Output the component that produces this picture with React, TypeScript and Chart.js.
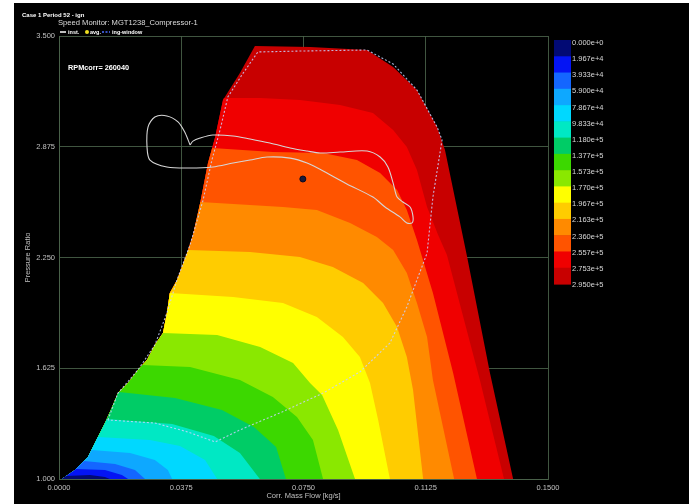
import React, { useEffect, useRef } from 'react';
import { Chart, registerables } from 'chart.js';

Chart.register(...registerables);

type P = [number, number];

const FONT = '"Liberation Sans", Arial, sans-serif';

const xTicks = [0, 0.0375, 0.075, 0.1125, 0.15];
const yTicks = [1.0, 1.625, 2.25, 2.875, 3.5];

const levelLabels = [
  '0.000e+0', '1.967e+4', '3.933e+4', '5.900e+4', '7.867e+4', '9.833e+4', '1.180e+5', '1.377e+5',
  '1.573e+5', '1.770e+5', '1.967e+5', '2.163e+5', '2.360e+5', '2.557e+5', '2.753e+5', '2.950e+5',
];
const bandColors = [
  '#020a74', '#0414f4', '#1466ff', '#0ea8ff', '#00d8ff', '#00e8c4', '#00cc66', '#3cd800',
  '#8ae800', '#ffff00', '#ffcc00', '#ff8a00', '#ff5400', '#f00000', '#c80000',
];

// left (surge) boundary of the map, bottom to top
const surge: P[] = [
  [0.0009, 1.0], [0.0049, 1.051], [0.0089, 1.124], [0.011, 1.203], [0.0141, 1.316], [0.0163, 1.406],
  [0.0181, 1.485], [0.0212, 1.542], [0.0242, 1.615], [0.027, 1.672], [0.0294, 1.756], [0.0319, 1.824],
  [0.0331, 1.937], [0.034, 2.05], [0.0362, 2.123], [0.0393, 2.275], [0.0411, 2.377], [0.0433, 2.558],
  [0.0457, 2.783], [0.0479, 2.93], [0.0503, 3.139], [0.0555, 3.291], [0.0601, 3.444],
];
// top and right edge of the map (2.950e+5 level)
const envelopeTop: P[] = [
  [0.077, 3.438], [0.0945, 3.421], [0.1025, 3.325], [0.1098, 3.195], [0.116, 2.986], [0.1184, 2.857],
  [0.1252, 2.253], [0.1322, 1.598], [0.1393, 1.0],
];
// iso-speed contours, each from the surge line down to PR = 1
const contour2753e5: P[] = [
  [0.0506, 3.15], [0.0617, 3.15], [0.0739, 3.139], [0.0862, 3.111], [0.0963, 3.065], [0.1025, 2.97],
  [0.1067, 2.874], [0.1098, 2.744], [0.1129, 2.535], [0.1163, 2.377], [0.119, 2.264], [0.1291, 1.559],
  [0.1365, 1.0],
];
const contour2557e5: P[] = [
  [0.047, 2.868], [0.0656, 2.845], [0.081, 2.84], [0.0914, 2.8], [0.0985, 2.727], [0.1037, 2.631],
  [0.1067, 2.518], [0.1098, 2.349], [0.1147, 2.05], [0.1209, 1.598], [0.1282, 1.0],
];
const contour2360e5: P[] = [
  [0.0433, 2.563], [0.0687, 2.535], [0.0791, 2.518], [0.0893, 2.445], [0.0975, 2.366], [0.1025, 2.292],
  [0.1067, 2.163], [0.1098, 1.993], [0.1129, 1.801], [0.1147, 1.559], [0.1212, 1.0],
];
const contour2163e5: P[] = [
  [0.0396, 2.292], [0.0586, 2.281], [0.0739, 2.253], [0.084, 2.196], [0.0933, 2.106], [0.0994, 1.993],
  [0.1037, 1.858], [0.1067, 1.688], [0.1086, 1.502], [0.1117, 1.0],
];
const contour1967e5: P[] = [
  [0.034, 2.05], [0.0534, 2.027], [0.0687, 1.993], [0.0791, 1.914], [0.0871, 1.801], [0.0923, 1.688],
  [0.0954, 1.542], [0.0979, 1.333], [0.1015, 1.0],
];
const contour1770e5: P[] = [
  [0.0319, 1.824], [0.0485, 1.813], [0.0617, 1.745], [0.0718, 1.655], [0.077, 1.542], [0.0807, 1.474],
  [0.0856, 1.277], [0.0908, 1.0],
];
const contour1573e5: P[] = [
  [0.0256, 1.643], [0.0402, 1.632], [0.0555, 1.559], [0.0656, 1.463], [0.073, 1.35], [0.0779, 1.22],
  [0.081, 1.0],
];
const contour1377e5: P[] = [
  [0.0184, 1.491], [0.0356, 1.457], [0.05, 1.389], [0.0598, 1.293], [0.0666, 1.181], [0.0696, 1.0],
];
const contour1180e5: P[] = [
  [0.0147, 1.339], [0.0347, 1.31], [0.0475, 1.243], [0.0555, 1.147], [0.0616, 1.0],
];
const contour9833e4: P[] = [
  [0.0119, 1.237], [0.0279, 1.22], [0.0371, 1.186], [0.0448, 1.107], [0.0485, 1.0],
];
const contour7867e4: P[] = [
  [0.01, 1.164], [0.0218, 1.147], [0.0294, 1.107], [0.0334, 1.051], [0.0347, 1.0],
];
const contour5900e4: P[] = [
  [0.0077, 1.102], [0.0172, 1.085], [0.0233, 1.051], [0.0264, 1.0],
];
const contour3933e4: P[] = [
  [0.0052, 1.056], [0.0141, 1.051], [0.0193, 1.023], [0.0212, 1.0],
];
const contour1967e4: P[] = [
  [0.0022, 1.017], [0.0095, 1.023], [0.0141, 1.011], [0.0156, 1.0],
];

// instantaneous operating trace
const instTrace: P[] = [
  [0.0402, 2.885], [0.0411, 2.907], [0.0433, 2.924], [0.0472, 2.941], [0.0534, 2.936], [0.0586, 2.919],
  [0.0647, 2.896], [0.0709, 2.868], [0.0761, 2.851], [0.0801, 2.84], [0.0862, 2.845], [0.0945, 2.851],
  [0.0985, 2.817], [0.1009, 2.761], [0.1025, 2.67], [0.1037, 2.591], [0.1055, 2.563], [0.1077, 2.535],
  [0.1086, 2.479], [0.1083, 2.445], [0.1067, 2.445], [0.1046, 2.479], [0.1, 2.535], [0.0963, 2.591],
  [0.0883, 2.665], [0.0822, 2.727], [0.0761, 2.783], [0.0709, 2.811], [0.0638, 2.817], [0.0586, 2.8],
  [0.0534, 2.783], [0.0472, 2.761], [0.0402, 2.755], [0.0331, 2.761], [0.0279, 2.8], [0.027, 2.874],
  [0.0273, 2.986], [0.0294, 3.043], [0.0331, 3.049], [0.0365, 3.015], [0.0387, 2.953], [0.0402, 2.885],
];
// ing-window outline
const ingWindow: P[] = [
  [0.015, 1.333], [0.0181, 1.485], [0.0242, 1.615], [0.0294, 1.756], [0.0331, 1.937], [0.0362, 2.123],
  [0.0402, 2.321], [0.0442, 2.574], [0.0469, 2.8], [0.0494, 2.97], [0.0518, 3.156], [0.0561, 3.28],
  [0.061, 3.41], [0.0739, 3.415], [0.0945, 3.421], [0.1025, 3.342], [0.1098, 3.195], [0.116, 2.986],
  [0.1175, 2.913], [0.1147, 2.591], [0.1129, 2.275], [0.1067, 1.971], [0.1015, 1.767], [0.0923, 1.604],
  [0.081, 1.485], [0.0684, 1.378], [0.0555, 1.277], [0.0479, 1.209], [0.0396, 1.265], [0.0294, 1.316],
  [0.015, 1.333],
];
const avgPoint: P[] = [[0.0748, 2.693]];
const rpmText = 'RPMcorr= 260040';

// contours from lowest level to highest (the envelope is the 2.950e+5 level)
const contours: P[][] = [
  contour1967e4, contour3933e4, contour5900e4, contour7867e4, contour9833e4, contour1180e5, contour1377e5,
  contour1573e5, contour1770e5, contour1967e5, contour2163e5, contour2360e5, contour2557e5, contour2753e5,
];

const toXY = (pts: P[]) => pts.map(([x, y]) => ({ x, y }));

function regionFor(contour: P[]): P[] {
  const startY = contour[0][1];
  return [...surge.filter((p) => p[1] < startY), ...contour];
}

const overlayPlugin = {
  id: 'overlayTexts',
  afterDraw(chart: any) {
    const ctx: CanvasRenderingContext2D = chart.ctx;
    const area = chart.chartArea;
    ctx.save();
    // colour bar
    const bx = 540;
    const by = 37;
    const bw = 17;
    const bh = 244 / bandColors.length;
    bandColors.forEach((c, i) => {
      ctx.fillStyle = c;
      ctx.fillRect(bx, by + i * bh, bw, bh + 0.6);
    });
    ctx.font = `7.5px ${FONT}`;
    ctx.fillStyle = '#d8d8d8';
    ctx.textAlign = 'left';
    ctx.textBaseline = 'middle';
    levelLabels.forEach((t, i) => ctx.fillText(t, 558, 40 + i * 16.13));

    // header
    ctx.fillStyle = '#ffffff';
    ctx.font = `bold 6px ${FONT}`;
    ctx.fillText('Case 1 Period 52 - ign', 8, 12);
    ctx.fillStyle = '#dddddd';
    ctx.font = `7.6px ${FONT}`;
    ctx.fillText('Speed Monitor: MGT1238_Compressor-1', 44, 19.5);

    // small legend row
    const ly = 29;
    ctx.font = `bold 5.5px ${FONT}`;
    ctx.strokeStyle = '#ffffff';
    ctx.lineWidth = 1.5;
    ctx.beginPath();
    ctx.moveTo(46, ly);
    ctx.lineTo(52, ly);
    ctx.stroke();
    ctx.fillStyle = '#ffffff';
    ctx.fillText('inst.', 54, ly);
    ctx.fillStyle = '#f0e020';
    ctx.beginPath();
    ctx.arc(73, ly, 2, 0, Math.PI * 2);
    ctx.fill();
    ctx.fillStyle = '#ffffff';
    ctx.fillText('avg.', 76, ly);
    ctx.strokeStyle = '#4a6cff';
    ctx.setLineDash([2, 1.5]);
    ctx.beginPath();
    ctx.moveTo(88, ly);
    ctx.lineTo(96, ly);
    ctx.stroke();
    ctx.setLineDash([]);
    ctx.fillText('ing-window', 98, ly);

    // RPM annotation inside plot
    ctx.font = `bold 7.3px ${FONT}`;
    ctx.fillStyle = '#ffffff';
    ctx.fillText(rpmText, area.left + 9, 65);
    ctx.restore();
  },
};

export default function App() {
  const canvasRef = useRef<HTMLCanvasElement | null>(null);

  useEffect(() => {
    const canvas = canvasRef.current;
    if (!canvas) return;

    const regionDatasets: any[] = [];
    regionDatasets.push({
      label: 'level 15',
      data: toXY([...surge, ...envelopeTop]),
      showLine: true,
      fill: 'shape',
      backgroundColor: bandColors[14],
      borderWidth: 0,
      pointRadius: 0,
      order: 15,
    });
    contours.forEach((c, i) => {
      regionDatasets.push({
        label: `level ${i + 1}`,
        data: toXY(regionFor(c)),
        showLine: true,
        fill: 'shape',
        backgroundColor: bandColors[i],
        borderWidth: 0,
        pointRadius: 0,
        order: i + 1,
      });
    });

    const gridColor = 'rgba(75,100,75,0.85)';

    const chart = new Chart(canvas, {
      type: 'scatter',
      data: {
        datasets: [
          {
            label: 'avg.',
            data: toXY(avgPoint),
            pointRadius: 3,
            pointBackgroundColor: '#1a1a3a',
            pointBorderColor: '#0a0a20',
            borderWidth: 1,
            order: -3,
          } as any,
          {
            label: 'inst.',
            data: toXY(instTrace),
            showLine: true,
            fill: false,
            borderColor: '#d6d6d6',
            borderWidth: 1.1,
            pointRadius: 0,
            tension: 0.3,
            order: -2,
          },
          {
            label: 'ing-window',
            data: toXY(ingWindow),
            showLine: true,
            fill: false,
            borderColor: 'rgba(200,210,255,0.85)',
            borderWidth: 1.1,
            borderDash: [2, 2],
            pointRadius: 0,
            order: -1,
          },
          ...regionDatasets,
        ],
      },
      options: {
        animation: false,
        responsive: false,
        devicePixelRatio: 1,
        events: [],
        layout: { padding: { top: 33, right: 141, left: 0, bottom: 0 } },
        font: { family: FONT },
        plugins: {
          legend: { display: false },
          tooltip: { enabled: false },
          title: { display: false },
        },
        scales: {
          x: {
            type: 'linear',
            min: 0,
            max: 0.15,
            z: 1,
            afterBuildTicks: (s: any) => {
              s.ticks = xTicks.map((v) => ({ value: v }));
            },
            afterFit: (s: any) => {
              s.height = 25;
            },
            ticks: {
              callback: (v: any) => Number(v).toFixed(4),
              color: '#c0c0c0',
              font: { size: 7.5, family: FONT },
              padding: 4,
              maxRotation: 0,
              autoSkip: false,
            },
            grid: { color: gridColor, lineWidth: 1, drawTicks: false },
            border: { color: gridColor },
            title: {
              display: true,
              text: 'Corr. Mass Flow [kg/s]',
              color: '#c0c0c0',
              font: { size: 7.5, family: FONT },
              padding: { top: 0, bottom: 3.5 },
            },
          },
          y: {
            type: 'linear',
            min: 1,
            max: 3.5,
            z: 1,
            afterBuildTicks: (s: any) => {
              s.ticks = yTicks.map((v) => ({ value: v }));
            },
            afterFit: (s: any) => {
              s.width = 45;
            },
            ticks: {
              callback: (v: any) => Number(v).toFixed(3),
              color: '#c0c0c0',
              font: { size: 7.5, family: FONT },
              padding: 4,
              autoSkip: false,
            },
            grid: { color: gridColor, lineWidth: 1, drawTicks: false },
            border: { color: gridColor },
            title: {
              display: true,
              text: 'Pressure Ratio',
              color: '#c0c0c0',
              font: { size: 7.5, family: FONT },
              padding: { top: 9.5, bottom: 0 },
            },
          },
        },
      } as any,
      plugins: [overlayPlugin],
    });

    return () => chart.destroy();
  }, []);

  return (
    <div style={{ position: 'absolute', left: 0, top: 0, width: 689, height: 504, background: '#ffffff', overflow: 'hidden' }}>
      <div style={{ position: 'absolute', left: 14, top: 3, width: 675, height: 501, background: '#000000' }}>
        <canvas ref={canvasRef} width={675} height={501} style={{ display: 'block', width: 675, height: 501 }} />
      </div>
    </div>
  );
}
